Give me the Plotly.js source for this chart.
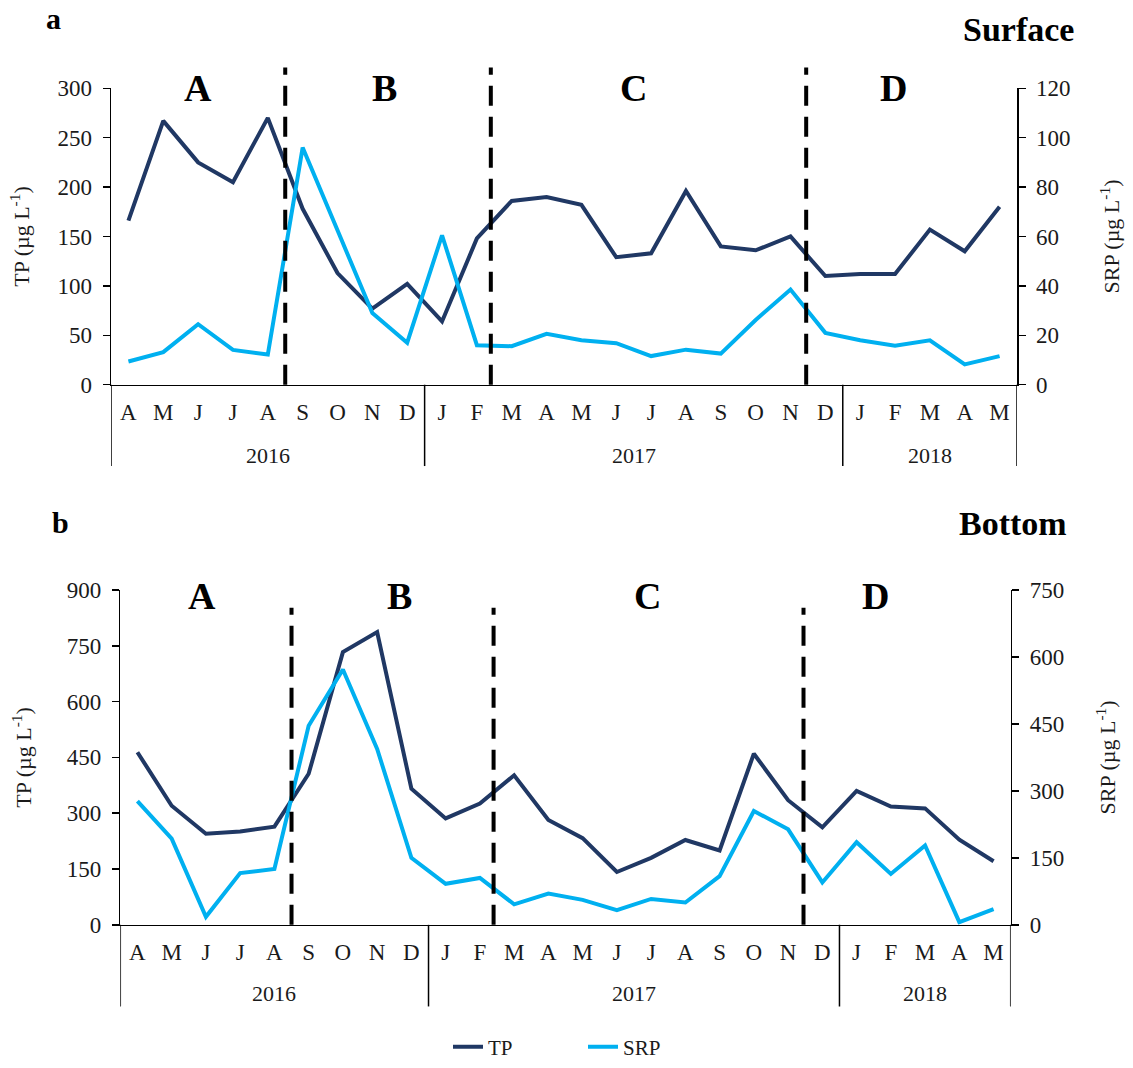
<!DOCTYPE html>
<html><head><meta charset="utf-8">
<script src="https://cdn.plot.ly/plotly-3.0.1.min.js"></script>
<style>html,body{margin:0;padding:0;background:#fff}#chart{width:1133px;height:1068px}</style>
</head><body><div id="chart"></div>
<script>
// ---- data ----
const months = ['A','M','J','J','A','S','O','N','D','J','F','M','A','M','J','J','A','S','O','N','D','J','F','M','A','M'];
const years = ['2016','2016','2016','2016','2016','2016','2016','2016','2016',
               '2017','2017','2017','2017','2017','2017','2017','2017','2017','2017','2017','2017',
               '2018','2018','2018','2018','2018'];
const tpSurface  = [166, 267, 225, 205, 270, 178, 113, 77, 102, 64, 148, 186, 190, 182, 129, 133, 196, 140, 136, 150, 110, 112, 112, 157, 135, 180];
const srpSurface = [9.4, 13.2, 24.5, 14.1, 12.2, 96, 62.5, 29, 17, 60.5, 16, 15.6, 20.6, 18, 16.8, 11.6, 14.2, 12.6, 26.2, 38.5, 21, 18, 15.8, 18, 8.2, 11.6];
const tpBottom   = [464, 320, 245, 251, 264, 406, 733, 787, 366, 286, 326, 402, 282, 233, 142, 180, 228, 200, 460, 335, 262, 360, 318, 313, 229, 171];
const srpBottom  = [277, 193, 18, 116, 125, 446, 572, 394, 150, 92, 105, 46, 70, 56, 33, 58, 50, 109, 255, 214, 95, 185, 114, 178, 6, 35];
const phaseNames = ['A','B','C','D'];
const phaseBoundaries = [4.5, 10.4, 19.45];
const phaseLabelPosSurface = [2.0, 7.35, 14.5, 21.95];
const phaseLabelPosBottom  = [1.9, 7.65, 14.9, 21.55];

// ---- geometry helpers ----
const W = 1133, H = 1068;
const px = v => v / W;
const py = v => 1 - v / H;
const idx = months.map((_, i) => i);
const groups = [];
years.forEach((y, i) => {
  const g = groups[groups.length - 1];
  if (!g || g.label !== y) groups.push({label: y, start: i, end: i}); else g.end = i;
});

const FONT = 'Liberation Serif, Times New Roman, serif';
const TXT = '#1a1a1a';
const TP_C = '#203864', SRP_C = '#00B0F0';

const traces = [
  {x: idx, y: tpSurface, xaxis: 'x', yaxis: 'y', name: 'TP', type: 'scatter', mode: 'lines',
   line: {color: TP_C, width: 4}, showlegend: true},
  {x: idx, y: srpSurface, xaxis: 'x', yaxis: 'y2', name: 'SRP', type: 'scatter', mode: 'lines',
   line: {color: SRP_C, width: 4}, showlegend: true},
  {x: idx, y: tpBottom, xaxis: 'x2', yaxis: 'y3', name: 'TP', type: 'scatter', mode: 'lines',
   line: {color: TP_C, width: 4}, showlegend: false},
  {x: idx, y: srpBottom, xaxis: 'x2', yaxis: 'y4', name: 'SRP', type: 'scatter', mode: 'lines',
   line: {color: SRP_C, width: 4}, showlegend: false}
];

const tickFont = {family: FONT, size: 23, color: TXT};
const titleFont = {family: FONT, size: 22, color: TXT};

function xAx(dom, anchor) {
  return {domain: dom, anchor: anchor, range: [-0.5, months.length - 0.5],
    tickmode: 'array', tickvals: idx, ticktext: months, ticks: '',
    showline: true, linecolor: '#000', linewidth: 1.5, showgrid: false, zeroline: false,
    tickfont: tickFont, ticklabelstandoff: 6, fixedrange: true};
}
function yAx(dom, anchor, range, dtick, title, side, overlay, standoff) {
  const a = {domain: dom, anchor: anchor, range: range, dtick: dtick, tick0: 0,
    showline: true, linecolor: '#000', linewidth: 1.5, ticks: 'outside', ticklen: 7, tickwidth: 1.5,
    tickcolor: '#000', showgrid: false, zeroline: false, tickfont: tickFont, side: side,
    ticklabelstandoff: 6,
    title: {text: title, font: titleFont, standoff: standoff}, fixedrange: true};
  if (overlay) a.overlaying = overlay;
  return a;
}

const domAx = [px(111), px(1017)], domAy = [py(388), py(89)];
const domBx = [px(120.3), px(1010.7)], domBy = [py(932.7), py(595)];
const TPT = 'TP (µg L<sup>-1</sup>)', SRPT = 'SRP (µg L<sup>-1</sup>)';

const shapes = [];
const annotations = [];
function panelDecor(xref, yBottomPx, dashTopPx, groupBottomPx, labelPos, labelYpx, yearYpx) {
  phaseBoundaries.forEach(b => shapes.push({type: 'line', xref: xref, yref: 'paper',
    x0: b, x1: b, y0: py(yBottomPx), y1: py(dashTopPx),
    line: {color: '#000', width: 4, dash: '20px,11px'}}));
  const edges = [groups[0].start - 0.5].concat(groups.map(g => g.end + 0.5));
  edges.forEach(e => shapes.push({type: 'line', xref: xref, yref: 'paper',
    x0: e, x1: e, y0: py(groupBottomPx), y1: py(yBottomPx), line: {color: '#000', width: 1.5}}));
  groups.forEach(g => annotations.push({xref: xref, yref: 'paper', x: (g.start + g.end) / 2, y: py(yearYpx),
    text: g.label, showarrow: false, xanchor: 'center', yanchor: 'middle', font: {family: FONT, size: 22, color: TXT}}));
  phaseNames.forEach((n, i) => annotations.push({xref: xref, yref: 'paper', x: labelPos[i], y: py(labelYpx),
    text: '<b>' + n + '</b>', showarrow: false, xanchor: 'center', yanchor: 'middle', font: {family: FONT, size: 38, color: '#000'}}));
}
panelDecor('x', 388, 68, 470, phaseLabelPosSurface, 89, 459);
panelDecor('x2', 932.7, 613, 1015, phaseLabelPosBottom, 601, 1002);

annotations.push(
  {xref: 'paper', yref: 'paper', x: px(53), y: py(19), text: '<b>a</b>', showarrow: false, xanchor: 'center', yanchor: 'middle', font: {family: FONT, size: 30, color: '#000'}},
  {xref: 'paper', yref: 'paper', x: px(1076), y: py(30), text: '<b>Surface</b>', showarrow: false, xanchor: 'right', yanchor: 'middle', font: {family: FONT, size: 34, color: '#000'}},
  {xref: 'paper', yref: 'paper', x: px(60), y: py(527), text: '<b>b</b>', showarrow: false, xanchor: 'center', yanchor: 'middle', font: {family: FONT, size: 30, color: '#000'}},
  {xref: 'paper', yref: 'paper', x: px(1069), y: py(528), text: '<b>Bottom</b>', showarrow: false, xanchor: 'right', yanchor: 'middle', font: {family: FONT, size: 34, color: '#000'}}
);

const layout = {
  width: W, height: H, margin: {l: 0, r: 0, t: 0, b: 0},
  paper_bgcolor: '#fff', plot_bgcolor: 'rgba(0,0,0,0)',
  font: {family: FONT, color: TXT},
  xaxis: xAx(domAx, 'y'),
  yaxis: yAx(domAy, 'x', [0, 300], 50, TPT, 'left', null, 21),
  yaxis2: yAx(domAy, 'x', [0, 120], 20, SRPT, 'right', 'y', 34),
  xaxis2: xAx(domBx, 'y3'),
  yaxis3: yAx(domBy, 'x2', [0, 900], 150, TPT, 'left', null, 29),
  yaxis4: yAx(domBy, 'x2', [0, 750], 150, SRPT, 'right', 'y3', 36),
  showlegend: true,
  legend: {orientation: 'h', x: px(448), xanchor: 'left', y: py(1056), yanchor: 'middle',
    bgcolor: 'rgba(0,0,0,0)', font: {family: FONT, size: 21, color: TXT},
    entrywidth: 90, entrywidthmode: 'pixels', traceorder: 'normal'},
  shapes: shapes, annotations: annotations
};

Plotly.newPlot('chart', traces, layout, {displayModeBar: false, staticPlot: true});
</script></body></html>
